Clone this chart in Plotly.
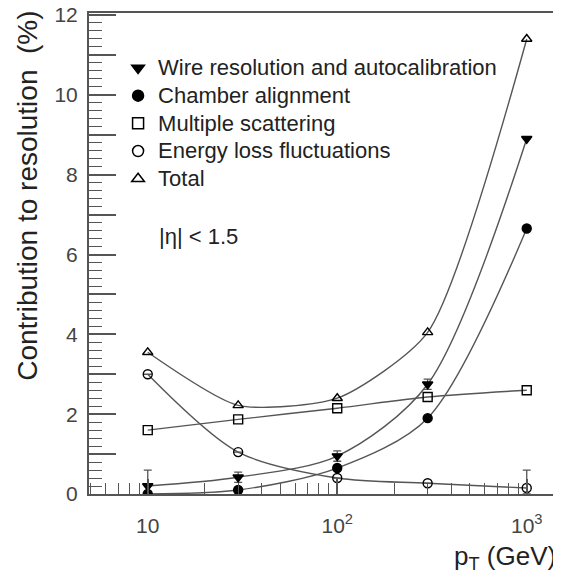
import plotly.graph_objects as go

pt = [10, 30, 100, 300, 1000]
wire = [0.2, 0.42, 0.95, 2.75, 8.9]
wire_err_plus = [0.4, 0.13, 0.13, 0.13, 0.0]
wire_err_minus = [0.2, 0.13, 0.13, 0.13, 0.0]
chamber = [0.0, 0.1, 0.65, 1.9, 6.65]
mscat = [1.6, 1.87, 2.15, 2.43, 2.6]
eloss = [3.0, 1.05, 0.4, 0.27, 0.15]
eloss_err_plus = [0.0, 0.0, 0.0, 0.0, 0.45]
eloss_err_minus = [0.0, 0.0, 0.0, 0.0, 0.15]
total = [3.55, 2.22, 2.4, 4.05, 11.4]

names = ["Wire resolution and autocalibration", "Chamber alignment",
         "Multiple scattering", "Energy loss fluctuations", "Total"]
symbols = ["triangle-down", "circle", "square-open", "circle-open", "triangle-up-open"]
series = [wire, chamber, mscat, eloss, total]
errs = [(wire_err_plus, wire_err_minus), None, None, (eloss_err_plus, eloss_err_minus), None]
smooth = [0.85, 0.85, 0.85, 0.85, 0.65]

x_minor = [m * 10 ** d for d in range(0, 4) for m in range(2, 10)]

fig = go.Figure()
for name, sym, ys, er, sm in zip(names, symbols, series, errs, smooth):
    fig.add_trace(go.Scatter(
        x=pt, y=ys, mode="lines+markers", showlegend=False,
        line=dict(color="#555555", width=1.4, shape="spline", smoothing=sm),
        marker=dict(symbol=sym, size=9, color="black", line=dict(color="black", width=1.4)),
        error_y=dict(type="data", array=er[0], arrayminus=er[1], color="#555555",
                     thickness=1.3, width=4) if er else None,
    ))
for name, sym in zip(names, symbols):
    fig.add_trace(go.Scatter(
        x=[None], y=[None], mode="markers",
        name='<span style="font-size:22px">' + name + '</span>',
        marker=dict(symbol=sym, size=11, color="black", line=dict(color="black", width=1.5)),
    ))

fig.update_layout(
    width=553, height=569,
    margin=dict(l=81, r=3, t=5, b=83, autoexpand=False),
    paper_bgcolor="white", plot_bgcolor="white",
    font=dict(family="Liberation Sans, Arial, sans-serif", color="#222222"),
    legend=dict(x=0.062, y=0.925, xanchor="left", yanchor="top",
                font=dict(size=19, color="#222222"), bgcolor="rgba(0,0,0,0)",
                itemwidth=30, tracegroupgap=0),
    xaxis=dict(type="log", range=[0.69, 3.165], showgrid=False, zeroline=False,
               showline=True, linecolor="#555555", linewidth=2, mirror=True,
               ticks="inside", ticklen=15, tickcolor="#555555", tickwidth=1.5,
               tickvals=[10, 100, 1000], ticktext=["10", "10<sup>2</sup>", "10<sup>3</sup>"],
               tickfont=dict(size=21, color="#444444"), automargin=False,
               ticklabelstandoff=12, ticklabeloverflow="allow",
               minor=dict(ticks="inside", ticklen=11, tickvals=x_minor,
                          tickcolor="#555555", tickwidth=1.3, showgrid=False)),
    yaxis=dict(range=[0, 12.05], showgrid=False, zeroline=False,
               showline=True, linecolor="#555555", linewidth=2, mirror=True,
               ticks="inside", ticklen=27, tickcolor="#555555", tickwidth=1.5,
               tickvals=list(range(0, 13)),
               ticktext=[str(v) if v % 2 == 0 else "" for v in range(0, 13)],
               tickfont=dict(size=21, color="#444444"), automargin=False,
               ticklabelstandoff=5, ticklabeloverflow="allow",
               minor=dict(ticks="inside", ticklen=13, dtick=0.2, tickcolor="#555555",
                          tickwidth=1.3, showgrid=False)),
)
fig.add_annotation(xref="paper", yref="paper", x=-0.13, y=0.62, xanchor="center", yanchor="middle",
                   text="Contribution to resolution  (%)", textangle=-90, showarrow=False,
                   font=dict(size=28, color="#222222"))
fig.add_annotation(xref="paper", yref="paper", x=0.145, y=0.535, xanchor="left", yanchor="middle",
                   text="|η| < 1.5", showarrow=False, font=dict(size=22, color="#222222"))
fig.add_annotation(xref="paper", yref="paper", x=1.0, y=-0.131, xanchor="right", yanchor="middle",
                   text="p<sub>T</sub> (GeV)", showarrow=False, font=dict(size=26, color="#222222"))

fig.write_html("out.html")
